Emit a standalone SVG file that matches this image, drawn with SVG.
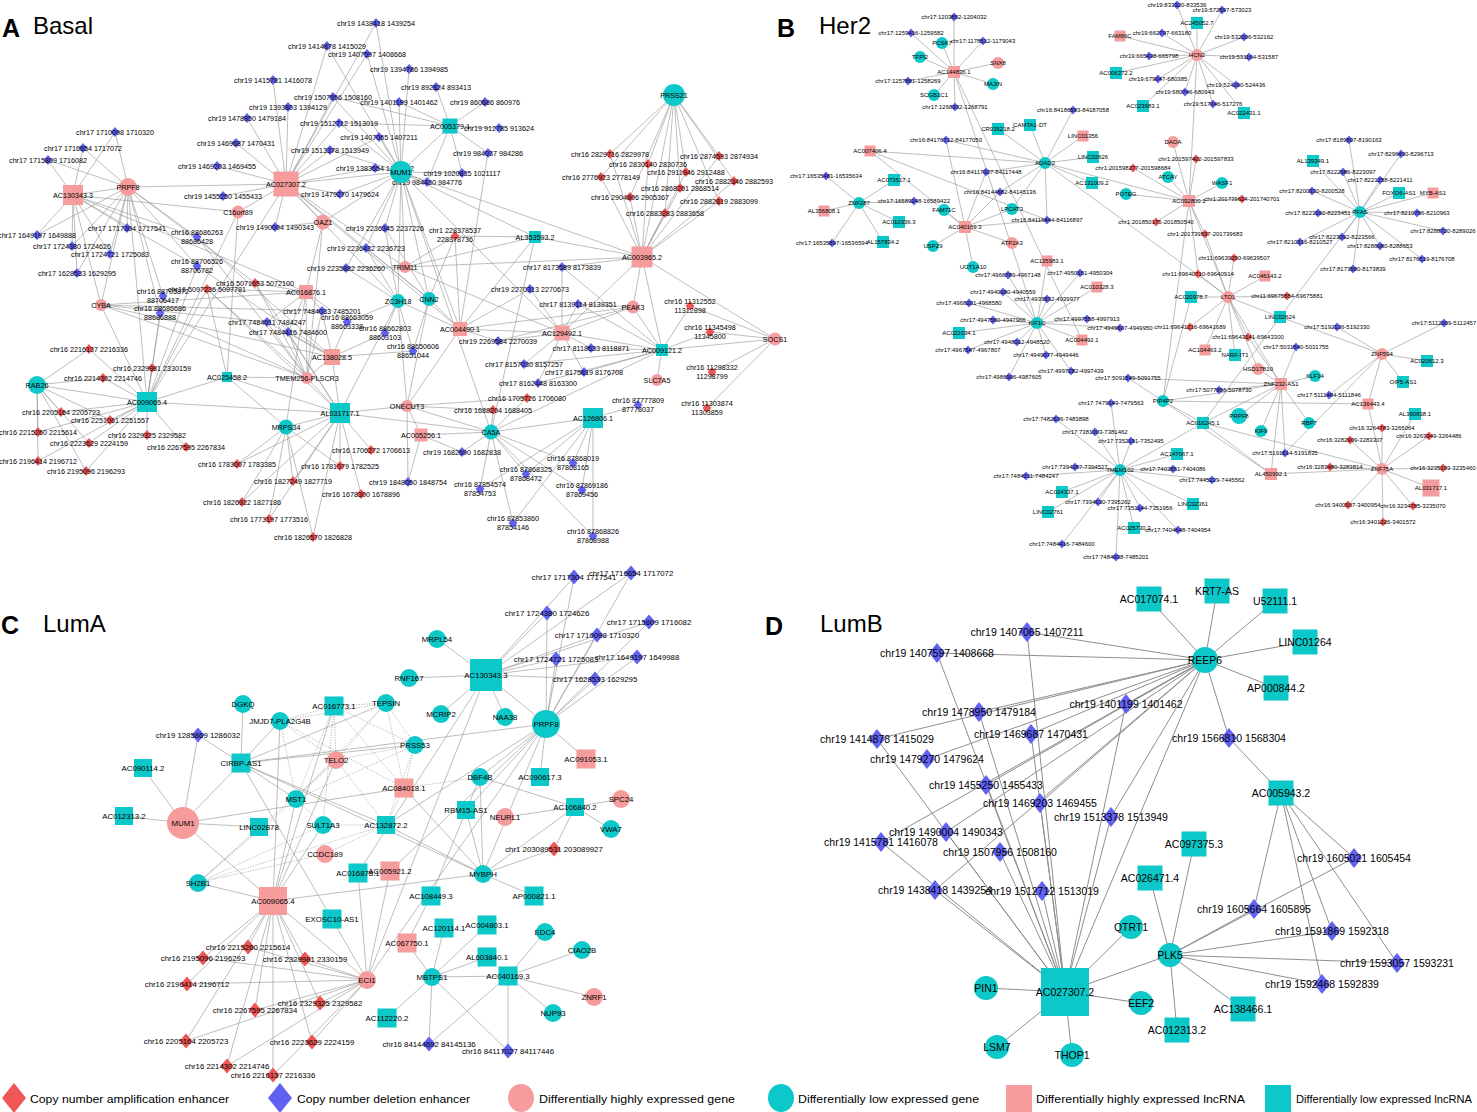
<svg xmlns="http://www.w3.org/2000/svg" width="1477" height="1112" viewBox="0 0 1477 1112">
<style>
.e{fill:none;stroke:#929292;stroke-width:.6}
.ed{fill:none;stroke:#929292;stroke-width:.6;stroke-dasharray:1.3 1.3}
.eD{fill:none;stroke:#8e8e8e;stroke-width:1}
text{font-family:"Liberation Sans",Arial,sans-serif;fill:#000}
.t{text-anchor:middle}
.a{font-size:7.2px}.b{font-size:6px}.c{font-size:7.8px}.d{font-size:10.5px}
.P{font-size:24px}.B{font-size:25px;font-weight:bold}
.lg{font-size:11.6px}
.ra{fill:#ef5757}.bd{fill:#6262f2}.ph{fill:#f69c9c}.cl{fill:#0cc8c8}
</style>
<defs>
<path id="da" d="M0-5L4.5 0 0 5-4.5 0Z"/>
<path id="db" d="M0-4.5L4 0 0 4.5-4 0Z"/>
<path id="dc" d="M0-7.5L6.5 0 0 7.5-6.5 0Z"/>
<path id="dd" d="M0-10L8 0 0 10-8 0Z"/>
</defs>
<rect width="1477" height="1112" fill="#fff"/>
<g id="panel-titles">
<text class="B" x="2" y="37">A</text><text class="P" x="33" y="34">Basal</text>
<text class="B" x="777" y="37">B</text><text class="P" x="819" y="34">Her2</text>
<text class="B" x="1" y="634">C</text><text class="P" x="43" y="632">LumA</text>
<text class="B" x="765" y="635">D</text><text class="P" x="820" y="632">LumB</text>
</g>
<g id="connectors">
<path class="e" d="M286 184L376 23M286 184L327 46M286 184L367 54M286 184L273 80M286 184L333 97M286 184L288 107M286 184L247 118M286 184L339 123M286 184L379 137M286 184L236 143M286 184L330 150M286 184L217 166M286 184L340 194M286 184L223 196M286 184L275 227M286 184L128 187M286 184L238 212M286 184L323 222M286 184L405 267M286 184L398 301M286 184L429 299M286 184L460 329M286 184L401 172M286 184L375 168"/>
<path class="e" d="M401 172L376 23M401 172L367 54M401 172L409 69M401 172L399 102M401 172L379 137M401 172L330 150M401 172L375 168M401 172L340 194M401 172L339 123M401 172L333 97M401 172L450 126M401 172L462 173M401 172L427 182M401 172L385 228M401 172L366 248M401 172L346 268M401 172L642 257M401 172L535 237M401 172L405 267M401 172L429 299M401 172L398 301M401 172L491 432M401 172L460 329M401 172L562 333M401 172L323 222M401 172L327 46"/>
<path class="e" d="M450 126L436 87M450 126L485 102M450 126L499 128M450 126L488 153M450 126L462 173M450 126L427 182M450 126L333 97M450 126L339 123M450 126L399 102M488 153L460 329"/>
<path class="e" d="M674 95L610 154M674 95L648 164M674 95L686 172M674 95L601 177M674 95L680 188M674 95L630 197M674 95L665 213M674 95L719 156M674 95L734 181M674 95L719 201M674 95L642 257"/>
<path class="e" d="M642 257L610 154M642 257L648 164M642 257L686 172M642 257L601 177M642 257L680 188M642 257L630 197M642 257L665 213M642 257L719 156M642 257L734 181M642 257L719 201M642 257L405 267M642 257L535 237M642 257L562 267M642 257L562 333M642 257L662 350M642 257L775 339M642 257L633 307"/>
<path class="e" d="M73 195L115 132M73 195L83 148M73 195L48 160M73 195L37 235M73 195L127 228M73 195L72 246M73 195L110 254M73 195L77 273M73 195L128 187M73 195L238 212M73 195L197 237M73 195L101 305M73 195L306 292M73 195L197 266"/>
<path class="e" d="M128 187L115 132M128 187L83 148M128 187L48 160M128 187L37 235M128 187L127 228M128 187L72 246M128 187L110 254M128 187L77 273M128 187L101 305M128 187L197 237M128 187L197 266M128 187L163 296M128 187L160 313M128 187L147 402M128 187L255 283"/>
<path class="e" d="M101 305L147 402M101 305L307 378M101 305L306 292M101 305L332 357M101 305L322 311M101 305L267 322"/>
<path class="e" d="M147 402L89 349M147 402L152 368M147 402L103 378M147 402L61 412M147 402L110 420M147 402L38 432M147 402L147 435M147 402L89 443M147 402L186 447M147 402L38 461M147 402L86 471M147 402L37 385M147 402L340 413M147 402L238 212M147 402L286 184M147 402L227 377M147 402L197 266M147 402L163 296M147 402L160 313M147 402L207 289"/>
<path class="e" d="M37 385L89 349M37 385L103 378M37 385L61 412M37 385L38 432M37 385L89 443M37 385L38 461M37 385L86 471M37 385L110 420"/>
<path class="e" d="M286 427L237 464M286 427L340 466M286 427L293 481M286 427L242 502M286 427L269 519M286 427L313 537M286 427L227 377M286 427L340 413M286 427L306 292"/>
<path class="e" d="M340 413L237 464M340 413L340 466M340 413L293 481M340 413L242 502M340 413L269 519M340 413L313 537M340 413L361 494M340 413L371 450M340 413L407 406M340 413L491 432M340 413L307 378M340 413L227 377M340 413L332 357M340 413L255 283M340 413L207 289M340 413L288 332"/>
<path class="e" d="M306 292L255 283M306 292L207 289M306 292L322 311M306 292L267 322M306 292L288 332M306 292L347 322M306 292L307 378M306 292L323 222"/>
<path class="e" d="M332 357L322 311M332 357L267 322M332 357L288 332M332 357L347 322M332 357L385 333M332 357L413 351M332 357L307 378M332 357L197 237M332 357L197 266"/>
<path class="e" d="M307 378L255 283M307 378L207 289M307 378L322 311M307 378L267 322M307 378L288 332M307 378L227 377M307 378L197 237M307 378L160 313M227 377L238 212M227 377L207 289M323 222L307 378M323 222L275 227"/>
<path class="e" d="M398 301L385 228M398 301L366 248M398 301L346 268M398 301L407 406M398 301L385 333M398 301L413 351M398 301L340 413M398 301L460 329M398 301L347 322M429 299L385 228M429 299L366 248M429 299L460 329M429 299L407 406M429 299L413 351M429 299L455 236"/>
<path class="e" d="M405 267L535 237M405 267L455 236M405 267L346 268M405 267L562 333M535 237L455 236M535 237L460 329M535 237L491 432M460 329L530 289M460 329L498 341M460 329L407 406M460 329L562 333M460 329L455 236"/>
<path class="e" d="M562 333L530 289M562 333L578 304M562 333L591 348M562 333L524 364M562 333L584 372M562 333L538 383M562 333L562 267M562 333L633 307M562 333L662 350M562 333L498 341"/>
<path class="e" d="M662 350L578 304M662 350L524 364M662 350L584 372M662 350L538 383M662 350L562 267M662 350L633 307M662 350L657 380M662 350L775 339M662 350L690 306M662 350L710 332M662 350L491 432M662 350L591 348M775 339L690 306M775 339L710 332M775 339L712 372M775 339L707 408M633 307L578 304M633 307L460 329M633 307L498 341"/>
<path class="e" d="M491 432L462 452M491 432L573 463M491 432L526 474M491 432L480 489M491 432L582 490M491 432L513 523M491 432L593 536M491 432L493 410M491 432L593 418M491 432L407 406M491 432L527 398M491 432L421 435M593 418L638 405M593 418L573 463M593 418L526 474M593 418L480 489M593 418L582 490M593 418L593 536M593 418L513 523M407 406L527 398M407 406L493 410M407 406L408 482M407 406L421 435M421 435L462 452M421 435L408 482"/>
<path class="e" d="M954 72L954 17M954 72L911 33M954 72L983 41M954 72L908 81M954 72L955 107M954 72L942 43M954 72L920 57M954 72L998 63M954 72L993 84M954 72L934 95M954 72L1037 323M954 72L1082 340"/>
<path class="e" d="M1045 163L1073 110M1045 163L1030 125M1045 163L998 129M1045 163L1083 136M1045 163L1093 157M1045 163L1092 183M1045 163L946 140M1045 163L986 172M1045 163L1000 192M1045 163L1047 220M1045 163L870 151M1045 163L1012 209M1045 163L1189 201M1045 163L1228 297"/>
<path class="e" d="M859 203L826 176M859 203L894 180M859 203L914 201M859 203L824 211M859 203L899 222M859 203L832 243M859 203L883 242M965 227L946 140M965 227L986 172M965 227L1000 192M965 227L1047 220M965 227L944 210M965 227L1012 209M965 227L933 246M965 227L1012 243M965 227L973 267M965 227L870 151M870 151L1047 220"/>
<path class="e" d="M1197 55L1177 5M1197 55L1222 10M1197 55L1162 33M1197 55L1244 37M1197 55L1149 56M1197 55L1249 57M1197 55L1158 79M1197 55L1236 85M1197 55L1185 92M1197 55L1213 104M1197 55L1197 23M1197 55L1120 36M1197 55L1116 73M1197 55L1143 106M1197 55L1244 113M1197 55L1189 201"/>
<path class="e" d="M1189 201L1173 142M1189 201L1196 159M1189 201L1133 168M1189 201L1242 199M1189 201L1156 222M1189 201L1205 234M1189 201L1168 177M1189 201L1222 183M1189 201L1126 194M1189 201L1198 274M1189 201L1163 401M1189 201L1228 297"/>
<path class="e" d="M1228 297L1234 258M1228 297L1198 274M1228 297L1287 296M1228 297L1190 327M1228 297L1248 337M1228 297L1191 297M1228 297L1280 317M1228 297L1205 350M1228 297L1235 355M1228 297L1258 369M1228 297L1281 384M1228 297L1265 276M1228 297L1205 234"/>
<path class="e" d="M1360 212L1349 140M1360 212L1401 154M1360 212L1343 172M1360 212L1380 180M1360 212L1312 191M1360 212L1318 213M1360 212L1417 213M1360 212L1443 231M1360 212L1342 237M1360 212L1300 242M1360 212L1380 246M1360 212L1422 259M1360 212L1353 269M1360 212L1313 161M1360 212L1399 193M1360 212L1433 193M1360 212L1280 317"/>
<path class="e" d="M1281 384L1296 347M1281 384L1315 376M1281 384L1258 369M1281 384L1163 401M1281 384L1239 416M1281 384L1261 431M1281 384L1309 423M1281 384L1203 423M1281 384L1285 453M1281 384L1271 474M1281 384L1219 390M1281 384L1128 378M1281 384L1248 337"/>
<path class="e" d="M1382 354L1337 327M1382 354L1444 323M1382 354L1427 361M1382 354L1403 382M1382 354L1368 404M1382 354L1329 395M1382 354L1280 317M1382 354L1285 453M1280 317L1203 423"/>
<path class="e" d="M1382 469L1382 428M1382 469L1429 436M1382 469L1350 440M1382 469L1330 467M1382 469L1443 468M1382 469L1348 505M1382 469L1413 506M1382 469L1383 522M1382 469L1431 488M1382 469L1368 404M1382 469L1415 414M1382 469L1271 474M1382 469L1203 423"/>
<path class="e" d="M1163 401L1191 297M1163 401L1128 378M1163 401L1368 404M1163 401L1203 423M1163 401L1271 474M1203 423L1120 470M1203 423L1271 474"/>
<path class="e" d="M1120 470L1173 469M1120 470L1212 480M1120 470L1140 508M1120 470L1178 530M1120 470L1116 557M1120 470L1111 403M1120 470L1095 432M1120 470L1131 441M1120 470L1075 467M1120 470L1026 476M1120 470L1098 502M1120 470L1062 544M1120 470L1056 419M1120 470L1177 454M1120 470L1062 492M1120 470L1048 512M1120 470L1193 504M1120 470L1134 528"/>
<path class="e" d="M1037 323L1003 292M1037 323L969 303M1037 323L1047 299M1037 323L993 320M1037 323L1087 319M1037 323L1017 342M1037 323L968 350M1037 323L1046 355M1037 323L1071 371M1037 323L1009 377M1037 323L1120 328M1037 323L959 333M1037 323L1082 340M1037 323L1097 287M1037 323L1080 273M1037 323L1008 275M1037 323L1047 261"/>
<path class="e" d="M486 675L631 573M486 675L574 577M486 675L547 613M486 675L649 622M486 675L597 635M486 675L556 659M486 675L637 657M486 675L595 679M486 675L437 639M486 675L409 678M486 675L441 714M486 675L505 717M486 675L546 724M486 675L358 873M486 675L367 980"/>
<path class="e" d="M546 724L631 573M546 724L574 577M546 724L547 613M546 724L649 622M546 724L597 635M546 724L556 659M546 724L637 657M546 724L595 679M546 724L586 759M546 724L540 777M546 724L480 777M546 724L241 763M546 724L483 874M546 724L466 810M546 724L386 825M546 724L367 980M546 724L390 871"/>
<path class="e" d="M183 823L198 735M183 823L143 768M183 823L124 816M183 823L241 763M183 823L259 827M183 823L273 901M183 823L404 788M241 763L243 704M241 763L280 721M241 763L198 735M241 763L386 703M241 763L415 745M241 763L296 799M241 763L386 825M241 763L483 874M241 763L332 919"/>
<path class="e" d="M273 901L198 883M273 901L248 947M273 901L203 958M273 901L305 959M273 901L187 984M273 901L320 1003M273 901L255 1010M273 901L186 1041M273 901L312 1042M273 901L227 1066M273 901L273 1075M273 901L367 980M273 901L483 874M273 901L280 721M273 901L296 799M273 901L323 825M273 901L336 760M273 901L334 706"/>
<path class="e" d="M367 980L248 947M367 980L203 958M367 980L305 959M367 980L187 984M367 980L320 1003M367 980L255 1010M367 980L186 1041M367 980L312 1042M367 980L227 1066M367 980L273 1075M367 980L332 919M367 980L358 873M367 980L390 871"/>
<path class="e" d="M483 874L480 777M483 874L575 807M483 874L534 896M483 874L554 849M483 874L386 825M483 874L466 810M483 874L404 788M575 807L480 777M575 807L621 799M575 807L611 829M575 807L554 849M575 807L505 817M480 777L431 896M407 943L431 896"/>
<path class="e" d="M432 977L407 943M432 977L444 928M432 977L487 925M432 977L487 957M432 977L508 976M432 977L387 1018M432 977L429 1044M432 977L508 1051M508 976L545 932M508 976L582 950M508 976L594 997M508 976L553 1013M508 976L429 1044M508 976L508 1051"/>
<path class="ed" d="M386 703L334 706M386 703L280 721M386 703L336 760M386 703L415 745M386 703L296 799M386 703L404 788M334 706L280 721M334 706L336 760M334 706L415 745M334 706L296 799M334 706L404 788M334 706L323 825M280 721L336 760M280 721L404 788M280 721L296 799M336 760L415 745M336 760L296 799M336 760L386 825M336 760L198 883M415 745L404 788M415 745L296 799M415 745L386 825M404 788L480 777M404 788L386 825M296 799L323 825M296 799L198 883M323 825L386 825M323 825L198 883M386 825L198 883M386 825L325 854M259 827L198 883M325 854L198 883"/>
<path class="eD" d="M1205 660L1149 599M1205 660L1217 591M1205 660L1275 601M1205 660L1305 642M1205 660L1276 688M1205 660L1027 632M1205 660L937 653M1205 660L979 712M1205 660L1126 704M1205 660L877 739M1205 660L1031 734M1205 660L927 759M1205 660L986 785M1205 660L1040 803M1205 660L1111 817M1205 660L946 832M1205 660L1229 738M1205 660L1065 992M1205 660L935 890M1205 660L881 842"/>
<path class="eD" d="M1065 992L1027 632M1065 992L937 653M1065 992L979 712M1065 992L877 739M1065 992L881 842M1065 992L986 785M1065 992L1040 803M1065 992L1031 734M1065 992L1126 704M1065 992L1111 817M1065 992L1000 852M1065 992L935 890M1065 992L1042 891M1065 992L946 832M1065 992L986 988M1065 992L997 1047M1065 992L1072 1055M1065 992L1141 1003M1065 992L1131 927M1065 992L1170 955"/>
<path class="eD" d="M1281 793L1229 738M1281 793L1354 858M1281 793L1254 909M1281 793L1332 931M1281 793L1397 963M1281 793L1322 984M1170 955L1194 844M1170 955L1150 878M1170 955L1354 858M1170 955L1254 909M1170 955L1332 931M1170 955L1397 963M1170 955L1322 984M1170 955L1243 1009M1170 955L1177 1030"/>
</g>
<g id="nodes-A">
<g id="a1" transform="translate(376 23)"><use href="#da" class="bd"/><text class="t a" y="2.5">chr19 1438418 1439254</text></g>
<g id="a2" transform="translate(327 46)"><use href="#da" class="bd"/><text class="t a" y="2.5">chr19 1414878 1415029</text></g>
<g id="a3" transform="translate(367 54)"><use href="#da" class="bd"/><text class="t a" y="2.5">chr19 1407597 1408668</text></g>
<g id="a4" transform="translate(409 69)"><use href="#da" class="bd"/><text class="t a" y="2.5">chr19 1394786 1394985</text></g>
<g id="a5" transform="translate(273 80)"><use href="#da" class="bd"/><text class="t a" y="2.5">chr19 1415781 1416078</text></g>
<g id="a6" transform="translate(436 87)"><use href="#da" class="bd"/><text class="t a" y="2.5">chr19 892824 893413</text></g>
<g id="a7" transform="translate(333 97)"><use href="#da" class="bd"/><text class="t a" y="2.5">chr19 1507956 1508160</text></g>
<g id="a8" transform="translate(399 102)"><use href="#da" class="bd"/><text class="t a" y="2.5">chr19 1401199 1401462</text></g>
<g id="a9" transform="translate(485 102)"><use href="#da" class="bd"/><text class="t a" y="2.5">chr19 860686 860976</text></g>
<g id="a10" transform="translate(288 107)"><use href="#da" class="bd"/><text class="t a" y="2.5">chr19 1393803 1394129</text></g>
<g id="a11" transform="translate(247 118)"><use href="#da" class="bd"/><text class="t a" y="2.5">chr19 1478950 1479184</text></g>
<g id="a12" transform="translate(339 123)"><use href="#da" class="bd"/><text class="t a" y="2.5">chr19 1512712 1513019</text></g>
<g id="a13" transform="translate(499 128)"><use href="#da" class="bd"/><text class="t a" y="2.5">chr19 912785 913624</text></g>
<g id="a14" transform="translate(379 137)"><use href="#da" class="bd"/><text class="t a" y="2.5">chr19 1407065 1407211</text></g>
<g id="a15" transform="translate(236 143)"><use href="#da" class="bd"/><text class="t a" y="2.5">chr19 1469687 1470431</text></g>
<g id="a16" transform="translate(330 150)"><use href="#da" class="bd"/><text class="t a" y="2.5">chr19 1513378 1513949</text></g>
<g id="a17" transform="translate(488 153)"><use href="#da" class="bd"/><text class="t a" y="2.5">chr19 984037 984286</text></g>
<g id="a18" transform="translate(217 166)"><use href="#da" class="bd"/><text class="t a" y="2.5">chr19 1469203 1469455</text></g>
<g id="a19" transform="translate(375 168)"><use href="#da" class="bd"/><text class="t a" y="2.5">chr19 1383654 1384012</text></g>
<g id="a20" transform="translate(462 173)"><use href="#da" class="bd"/><text class="t a" y="2.5">chr19 1020835 1021117</text></g>
<g id="a21" transform="translate(427 182)"><use href="#da" class="bd"/><text class="t a" y="2.5">chr19 984430 984776</text></g>
<g id="a22" transform="translate(340 194)"><use href="#da" class="bd"/><text class="t a" y="2.5">chr19 1479270 1479624</text></g>
<g id="a23" transform="translate(223 196)"><use href="#da" class="bd"/><text class="t a" y="2.5">chr19 1455250 1455433</text></g>
<g id="a24" transform="translate(275 227)"><use href="#da" class="bd"/><text class="t a" y="2.5">chr19 1490004 1490343</text></g>
<g id="a25" transform="translate(385 228)"><use href="#da" class="bd"/><text class="t a" y="2.5">chr19 2236345 2237226</text></g>
<g id="a26" transform="translate(366 248)"><use href="#da" class="bd"/><text class="t a" y="2.5">chr19 2236432 2236723</text></g>
<g id="a27" transform="translate(346 268)"><use href="#da" class="bd"/><text class="t a" y="2.5">chr19 2235882 2236260</text></g>
<g id="a28" transform="translate(115 132)"><use href="#da" class="bd"/><text class="t a" y="2.5">chr17 1710098 1710320</text></g>
<g id="a29" transform="translate(83 148)"><use href="#da" class="bd"/><text class="t a" y="2.5">chr17 1716654 1717072</text></g>
<g id="a30" transform="translate(48 160)"><use href="#da" class="bd"/><text class="t a" y="2.5">chr17 1715809 1716082</text></g>
<g id="a31" transform="translate(37 235)"><use href="#da" class="bd"/><text class="t a" y="2.5">chr17 1649197 1649888</text></g>
<g id="a32" transform="translate(127 228)"><use href="#da" class="bd"/><text class="t a" y="2.5">chr17 1717304 1717541</text></g>
<g id="a33" transform="translate(72 246)"><use href="#da" class="bd"/><text class="t a" y="2.5">chr17 1724380 1724626</text></g>
<g id="a34" transform="translate(110 254)"><use href="#da" class="bd"/><text class="t a" y="2.5">chr17 1724721 1725083</text></g>
<g id="a35" transform="translate(77 273)"><use href="#da" class="bd"/><text class="t a" y="2.5">chr17 1628533 1629295</text></g>
<g id="a36" transform="translate(197 237)"><use href="#da" class="bd"/><text class="t a"><tspan x="0" y="-2">chr16 88686263</tspan><tspan x="0" y="7">88686428</tspan></text></g>
<g id="a37" transform="translate(197 266)"><use href="#da" class="bd"/><text class="t a"><tspan x="0" y="-2">chr16 88706526</tspan><tspan x="0" y="7">88706782</tspan></text></g>
<g id="a38" transform="translate(163 296)"><use href="#da" class="bd"/><text class="t a"><tspan x="0" y="-2">chr16 88705872</tspan><tspan x="0" y="7">88706417</tspan></text></g>
<g id="a39" transform="translate(160 313)"><use href="#da" class="bd"/><text class="t a"><tspan x="0" y="-2">chr16 88686686</tspan><tspan x="0" y="7">88686888</tspan></text></g>
<g id="a40" transform="translate(322 311)"><use href="#da" class="bd"/><text class="t a" y="2.5">chr17 7484033 7485201</text></g>
<g id="a41" transform="translate(267 322)"><use href="#da" class="bd"/><text class="t a" y="2.5">chr17 7484011 7484247</text></g>
<g id="a42" transform="translate(288 332)"><use href="#da" class="bd"/><text class="t a" y="2.5">chr17 7484416 7484600</text></g>
<g id="a43" transform="translate(347 322)"><use href="#da" class="bd"/><text class="t a"><tspan x="0" y="-2">chr16 88663059</tspan><tspan x="0" y="7">88663338</tspan></text></g>
<g id="a44" transform="translate(385 333)"><use href="#da" class="bd"/><text class="t a"><tspan x="0" y="-2">chr16 88662803</tspan><tspan x="0" y="7">88663103</tspan></text></g>
<g id="a45" transform="translate(413 351)"><use href="#da" class="bd"/><text class="t a"><tspan x="0" y="-2">chr16 88650606</tspan><tspan x="0" y="7">88651044</tspan></text></g>
<g id="a46" transform="translate(530 289)"><use href="#da" class="bd"/><text class="t a" y="2.5">chr19 2270313 2270673</text></g>
<g id="a47" transform="translate(578 304)"><use href="#da" class="bd"/><text class="t a" y="2.5">chr17 8139114 8139351</text></g>
<g id="a48" transform="translate(498 341)"><use href="#da" class="bd"/><text class="t a" y="2.5">chr19 2269584 2270039</text></g>
<g id="a49" transform="translate(591 348)"><use href="#da" class="bd"/><text class="t a" y="2.5">chr17 8118633 8118871</text></g>
<g id="a50" transform="translate(524 364)"><use href="#da" class="bd"/><text class="t a" y="2.5">chr17 8157030 8157257</text></g>
<g id="a51" transform="translate(584 372)"><use href="#da" class="bd"/><text class="t a" y="2.5">chr17 8175819 8176708</text></g>
<g id="a52" transform="translate(538 383)"><use href="#da" class="bd"/><text class="t a" y="2.5">chr17 8162448 8163300</text></g>
<g id="a53" transform="translate(562 267)"><use href="#da" class="bd"/><text class="t a" y="2.5">chr17 8173589 8173839</text></g>
<g id="a54" transform="translate(638 405)"><use href="#da" class="bd"/><text class="t a"><tspan x="0" y="-2">chr16 87777809</tspan><tspan x="0" y="7">87778037</tspan></text></g>
<g id="a55" transform="translate(462 452)"><use href="#da" class="bd"/><text class="t a" y="2.5">chr19 1682690 1682838</text></g>
<g id="a56" transform="translate(573 463)"><use href="#da" class="bd"/><text class="t a"><tspan x="0" y="-2">chr16 87868019</tspan><tspan x="0" y="7">87868165</tspan></text></g>
<g id="a57" transform="translate(526 474)"><use href="#da" class="bd"/><text class="t a"><tspan x="0" y="-2">chr16 87868325</tspan><tspan x="0" y="7">87868472</tspan></text></g>
<g id="a58" transform="translate(408 482)"><use href="#da" class="bd"/><text class="t a" y="2.5">chr19 1848050 1848754</text></g>
<g id="a59" transform="translate(480 489)"><use href="#da" class="bd"/><text class="t a"><tspan x="0" y="-2">chr16 87854574</tspan><tspan x="0" y="7">87854753</tspan></text></g>
<g id="a60" transform="translate(582 490)"><use href="#da" class="bd"/><text class="t a"><tspan x="0" y="-2">chr16 87869186</tspan><tspan x="0" y="7">87869456</tspan></text></g>
<g id="a61" transform="translate(513 523)"><use href="#da" class="bd"/><text class="t a"><tspan x="0" y="-2">chr16 87853860</tspan><tspan x="0" y="7">87854146</tspan></text></g>
<g id="a62" transform="translate(593 536)"><use href="#da" class="bd"/><text class="t a"><tspan x="0" y="-2">chr16 87868826</tspan><tspan x="0" y="7">87868988</tspan></text></g>
<g id="a63" transform="translate(610 154)"><use href="#da" class="ra"/><text class="t a" y="2.5">chr16 2829716 2829978</text></g>
<g id="a64" transform="translate(648 164)"><use href="#da" class="ra"/><text class="t a" y="2.5">chr16 2830140 2830736</text></g>
<g id="a65" transform="translate(686 172)"><use href="#da" class="ra"/><text class="t a" y="2.5">chr16 2911946 2912488</text></g>
<g id="a66" transform="translate(601 177)"><use href="#da" class="ra"/><text class="t a" y="2.5">chr16 2776923 2778149</text></g>
<g id="a67" transform="translate(680 188)"><use href="#da" class="ra"/><text class="t a" y="2.5">chr16 2868201 2868514</text></g>
<g id="a68" transform="translate(630 197)"><use href="#da" class="ra"/><text class="t a" y="2.5">chr16 2904806 2905367</text></g>
<g id="a69" transform="translate(665 213)"><use href="#da" class="ra"/><text class="t a" y="2.5">chr16 2883283 2883658</text></g>
<g id="a70" transform="translate(719 156)"><use href="#da" class="ra"/><text class="t a" y="2.5">chr16 2874593 2874934</text></g>
<g id="a71" transform="translate(734 181)"><use href="#da" class="ra"/><text class="t a" y="2.5">chr16 2882346 2882593</text></g>
<g id="a72" transform="translate(719 201)"><use href="#da" class="ra"/><text class="t a" y="2.5">chr16 2882819 2883099</text></g>
<g id="a73" transform="translate(455 236)"><use href="#da" class="ra"/><text class="t a"><tspan x="0" y="-3">chr1 228378537</tspan><tspan x="0" y="6">228378736</tspan></text></g>
<g id="a74" transform="translate(255 283)"><use href="#da" class="ra"/><text class="t a" y="2.5">chr16 5071653 5072100</text></g>
<g id="a75" transform="translate(207 289)"><use href="#da" class="ra"/><text class="t a" y="2.5">chr16 5097236 5097781</text></g>
<g id="a76" transform="translate(89 349)"><use href="#da" class="ra"/><text class="t a" y="2.5">chr16 2216137 2216336</text></g>
<g id="a77" transform="translate(152 368)"><use href="#da" class="ra"/><text class="t a" y="2.5">chr16 2329981 2330159</text></g>
<g id="a78" transform="translate(103 378)"><use href="#da" class="ra"/><text class="t a" y="2.5">chr16 2214302 2214746</text></g>
<g id="a79" transform="translate(61 412)"><use href="#da" class="ra"/><text class="t a" y="2.5">chr16 2205164 2205723</text></g>
<g id="a80" transform="translate(110 420)"><use href="#da" class="ra"/><text class="t a" y="2.5">chr16 2251061 2251557</text></g>
<g id="a81" transform="translate(38 432)"><use href="#da" class="ra"/><text class="t a" y="2.5">chr16 2215260 2215614</text></g>
<g id="a82" transform="translate(147 435)"><use href="#da" class="ra"/><text class="t a" y="2.5">chr16 2329325 2329582</text></g>
<g id="a83" transform="translate(89 443)"><use href="#da" class="ra"/><text class="t a" y="2.5">chr16 2223629 2224159</text></g>
<g id="a84" transform="translate(186 447)"><use href="#da" class="ra"/><text class="t a" y="2.5">chr16 2267595 2267834</text></g>
<g id="a85" transform="translate(38 461)"><use href="#da" class="ra"/><text class="t a" y="2.5">chr16 2196414 2196712</text></g>
<g id="a86" transform="translate(86 471)"><use href="#da" class="ra"/><text class="t a" y="2.5">chr16 2195096 2196293</text></g>
<g id="a87" transform="translate(237 464)"><use href="#da" class="ra"/><text class="t a" y="2.5">chr16 1783007 1783385</text></g>
<g id="a88" transform="translate(340 466)"><use href="#da" class="ra"/><text class="t a" y="2.5">chr16 1781079 1782525</text></g>
<g id="a89" transform="translate(293 481)"><use href="#da" class="ra"/><text class="t a" y="2.5">chr16 1827249 1827719</text></g>
<g id="a90" transform="translate(242 502)"><use href="#da" class="ra"/><text class="t a" y="2.5">chr16 1826922 1827186</text></g>
<g id="a91" transform="translate(269 519)"><use href="#da" class="ra"/><text class="t a" y="2.5">chr16 1773197 1773516</text></g>
<g id="a92" transform="translate(313 537)"><use href="#da" class="ra"/><text class="t a" y="2.5">chr16 1826570 1826828</text></g>
<g id="a93" transform="translate(361 494)"><use href="#da" class="ra"/><text class="t a" y="2.5">chr16 1678300 1678896</text></g>
<g id="a94" transform="translate(371 450)"><use href="#da" class="ra"/><text class="t a" y="2.5">chr16 1706272 1706613</text></g>
<g id="a95" transform="translate(527 398)"><use href="#da" class="ra"/><text class="t a" y="2.5">chr16 1705726 1706080</text></g>
<g id="a96" transform="translate(493 410)"><use href="#da" class="ra"/><text class="t a" y="2.5">chr16 1688204 1688405</text></g>
<g id="a97" transform="translate(690 306)"><use href="#da" class="ra"/><text class="t a"><tspan x="0" y="-2">chr16 11312552</tspan><tspan x="0" y="7">11312898</tspan></text></g>
<g id="a98" transform="translate(710 332)"><use href="#da" class="ra"/><text class="t a"><tspan x="0" y="-2">chr16 11345498</tspan><tspan x="0" y="7">11345800</tspan></text></g>
<g id="a99" transform="translate(712 372)"><use href="#da" class="ra"/><text class="t a"><tspan x="0" y="-2">chr16 11298332</tspan><tspan x="0" y="7">11298799</tspan></text></g>
<g id="a100" transform="translate(707 408)"><use href="#da" class="ra"/><text class="t a"><tspan x="0" y="-2">chr16 11303874</tspan><tspan x="0" y="7">11303859</tspan></text></g>
<g id="a_PRPF8" transform="translate(128 187)"><circle r="9" class="ph"/><text class="t a" y="2.5">PRPF8</text></g>
<g id="a_C16orf89" transform="translate(238 212)"><circle r="6.5" class="ph"/><text class="t a" y="2.5">C16orf89</text></g>
<g id="a_OAZ1" transform="translate(323 222)"><circle r="7.5" class="ph"/><text class="t a" y="2.5">OAZ1</text></g>
<g id="a_CYBA" transform="translate(101 305)"><circle r="6" class="ph"/><text class="t a" y="2.5">CYBA</text></g>
<g id="a_TMEM256" transform="translate(307 378)"><circle r="6" class="ph"/><text class="t a" y="2.5">TMEM256-PLSCR3</text></g>
<g id="a_TRIM11" transform="translate(405 267)"><circle r="6" class="ph"/><text class="t a" y="2.5">TRIM11</text></g>
<g id="a_PEAK3" transform="translate(633 307)"><circle r="6.5" class="ph"/><text class="t a" y="2.5">PEAK3</text></g>
<g id="a_SLC7A5" transform="translate(657 380)"><circle r="6" class="ph"/><text class="t a" y="2.5">SLC7A5</text></g>
<g id="a_ONECUT3" transform="translate(407 406)"><circle r="6" class="ph"/><text class="t a" y="2.5">ONECUT3</text></g>
<g id="a_SOCS1" transform="translate(775 339)"><circle r="6.5" class="ph"/><text class="t a" y="2.5">SOCS1</text></g>
<g id="a_MUM1" transform="translate(401 172)"><circle r="11" class="cl"/><text class="t a" y="2.5">MUM1</text></g>
<g id="a_PRSS21" transform="translate(674 95)"><circle r="11" class="cl"/><text class="t a" y="2.5">PRSS21</text></g>
<g id="a_RAB26" transform="translate(37 385)"><circle r="9" class="cl"/><text class="t a" y="2.5">RAB26</text></g>
<g id="a_MRPS34" transform="translate(286 427)"><circle r="7.5" class="cl"/><text class="t a" y="2.5">MRPS34</text></g>
<g id="a_ZC3H18" transform="translate(398 301)"><circle r="7" class="cl"/><text class="t a" y="2.5">ZC3H18</text></g>
<g id="a_CNN2" transform="translate(429 299)"><circle r="7" class="cl"/><text class="t a" y="2.5">CNN2</text></g>
<g id="a_CA5A" transform="translate(491 432)"><circle r="7.5" class="cl"/><text class="t a" y="2.5">CA5A</text></g>
<g id="a_AC130343.3" transform="translate(73 195)"><rect x="-10" y="-10" width="20" height="20" class="ph"/><text class="t a" y="2.5">AC130343.3</text></g>
<g id="a_AC027307.2" transform="translate(286 184)"><rect x="-12.5" y="-12.5" width="25" height="25" class="ph"/><text class="t a" y="2.5">AC027307.2</text></g>
<g id="a_AC003965.2" transform="translate(642 257)"><rect x="-10.5" y="-10.5" width="21" height="21" class="ph"/><text class="t a" y="2.5">AC003965.2</text></g>
<g id="a_AC016876.1" transform="translate(306 292)"><rect x="-7" y="-7" width="14" height="14" class="ph"/><text class="t a" y="2.5">AC016876.1</text></g>
<g id="a_AC138028.5" transform="translate(332 357)"><rect x="-8" y="-8" width="16" height="16" class="ph"/><text class="t a" y="2.5">AC138028.5</text></g>
<g id="a_AC004490.1" transform="translate(460 329)"><rect x="-7" y="-7" width="14" height="14" class="ph"/><text class="t a" y="2.5">AC004490.1</text></g>
<g id="a_AC129492.1" transform="translate(562 333)"><rect x="-7.5" y="-7.5" width="15" height="15" class="ph"/><text class="t a" y="2.5">AC129492.1</text></g>
<g id="a_AC005256.1" transform="translate(421 435)"><rect x="-6.5" y="-6.5" width="13" height="13" class="ph"/><text class="t a" y="2.5">AC005256.1</text></g>
<g id="a_AC005379.1" transform="translate(450 126)"><rect x="-7.5" y="-7.5" width="15" height="15" class="cl"/><text class="t a" y="2.5">AC005379.1</text></g>
<g id="a_AL353593.2" transform="translate(535 237)"><rect x="-6" y="-6" width="12" height="12" class="cl"/><text class="t a" y="2.5">AL353593.2</text></g>
<g id="a_AC025458.2" transform="translate(227 377)"><rect x="-5" y="-5" width="10" height="10" class="cl"/><text class="t a" y="2.5">AC025458.2</text></g>
<g id="a_AC009065.4" transform="translate(147 402)"><rect x="-10" y="-10" width="20" height="20" class="cl"/><text class="t a" y="2.5">AC009065.4</text></g>
<g id="a_AL031717.1" transform="translate(340 413)"><rect x="-10" y="-10" width="20" height="20" class="cl"/><text class="t a" y="2.5">AL031717.1</text></g>
<g id="a_AC009121.2" transform="translate(662 350)"><rect x="-6" y="-6" width="12" height="12" class="cl"/><text class="t a" y="2.5">AC009121.2</text></g>
<g id="a_AC126806.1" transform="translate(593 418)"><rect x="-10" y="-10" width="20" height="20" class="cl"/><text class="t a" y="2.5">AC126806.1</text></g>
</g>
<g id="nodes-B">
<g id="b1" transform="translate(954 17)"><use href="#db" class="bd"/><text class="t b" y="2">chr17:1203852-1204032</text></g>
<g id="b2" transform="translate(911 33)"><use href="#db" class="bd"/><text class="t b" y="2">chr17:1259416-1259582</text></g>
<g id="b3" transform="translate(983 41)"><use href="#db" class="bd"/><text class="t b" y="2">chr17:1178512-1179043</text></g>
<g id="b4" transform="translate(908 81)"><use href="#db" class="bd"/><text class="t b" y="2">chr17:1257881-1258269</text></g>
<g id="b5" transform="translate(955 107)"><use href="#db" class="bd"/><text class="t b" y="2">chr17:1268332-1268791</text></g>
<g id="b6" transform="translate(1073 110)"><use href="#db" class="bd"/><text class="t b" y="2">chr16:84186593-84187058</text></g>
<g id="b7" transform="translate(946 140)"><use href="#db" class="bd"/><text class="t b" y="2">chr16:84176712-84177050</text></g>
<g id="b8" transform="translate(986 172)"><use href="#db" class="bd"/><text class="t b" y="2">chr16:84117027-84117448</text></g>
<g id="b9" transform="translate(826 176)"><use href="#db" class="bd"/><text class="t b" y="2">chr17:16535481-16535634</text></g>
<g id="b10" transform="translate(1000 192)"><use href="#db" class="bd"/><text class="t b" y="2">chr16:84144682-84145136</text></g>
<g id="b11" transform="translate(914 201)"><use href="#db" class="bd"/><text class="t b" y="2">chr17:16589248-16589422</text></g>
<g id="b12" transform="translate(1047 220)"><use href="#db" class="bd"/><text class="t b" y="2">chr16:84116444-84116897</text></g>
<g id="b13" transform="translate(832 243)"><use href="#db" class="bd"/><text class="t b" y="2">chr17:16535897-16536594</text></g>
<g id="b14" transform="translate(1008 275)"><use href="#db" class="bd"/><text class="t b" y="2">chr17:4966789-4967148</text></g>
<g id="b15" transform="translate(1080 273)"><use href="#db" class="bd"/><text class="t b" y="2">chr17:4950151-4950304</text></g>
<g id="b16" transform="translate(1177 5)"><use href="#db" class="bd"/><text class="t b" y="2">chr19:833320-833536</text></g>
<g id="b17" transform="translate(1222 10)"><use href="#db" class="bd"/><text class="t b" y="2">chr19:572597-573023</text></g>
<g id="b18" transform="translate(1162 33)"><use href="#db" class="bd"/><text class="t b" y="2">chr19:662797-663180</text></g>
<g id="b19" transform="translate(1244 37)"><use href="#db" class="bd"/><text class="t b" y="2">chr19:532006-532162</text></g>
<g id="b20" transform="translate(1149 56)"><use href="#db" class="bd"/><text class="t b" y="2">chr19:665438-665798</text></g>
<g id="b21" transform="translate(1249 57)"><use href="#db" class="bd"/><text class="t b" y="2">chr19:531164-531587</text></g>
<g id="b22" transform="translate(1158 79)"><use href="#db" class="bd"/><text class="t b" y="2">chr19:679047-680385</text></g>
<g id="b23" transform="translate(1236 85)"><use href="#db" class="bd"/><text class="t b" y="2">chr19:524290-524436</text></g>
<g id="b24" transform="translate(1185 92)"><use href="#db" class="bd"/><text class="t b" y="2">chr19:680746-680943</text></g>
<g id="b25" transform="translate(1213 104)"><use href="#db" class="bd"/><text class="t b" y="2">chr19:517046-517276</text></g>
<g id="b26" transform="translate(1349 140)"><use href="#db" class="bd"/><text class="t b" y="2">chr17:8189507-8190163</text></g>
<g id="b27" transform="translate(1401 154)"><use href="#db" class="bd"/><text class="t b" y="2">chr17:8296430-8296713</text></g>
<g id="b28" transform="translate(1343 172)"><use href="#db" class="bd"/><text class="t b" y="2">chr17:8222586-8223097</text></g>
<g id="b29" transform="translate(1380 180)"><use href="#db" class="bd"/><text class="t b" y="2">chr17:8221258-8221411</text></g>
<g id="b30" transform="translate(1312 191)"><use href="#db" class="bd"/><text class="t b" y="2">chr17:8200330-8200528</text></g>
<g id="b31" transform="translate(1318 213)"><use href="#db" class="bd"/><text class="t b" y="2">chr17:8223192-8223451</text></g>
<g id="b32" transform="translate(1417 213)"><use href="#db" class="bd"/><text class="t b" y="2">chr17:8210796-8210963</text></g>
<g id="b33" transform="translate(1443 231)"><use href="#db" class="bd"/><text class="t b" y="2">chr17:8288720-8289026</text></g>
<g id="b34" transform="translate(1342 237)"><use href="#db" class="bd"/><text class="t b" y="2">chr17:8223092-8223566</text></g>
<g id="b35" transform="translate(1300 242)"><use href="#db" class="bd"/><text class="t b" y="2">chr17:8210316-8210527</text></g>
<g id="b36" transform="translate(1380 246)"><use href="#db" class="bd"/><text class="t b" y="2">chr17:8288080-8288653</text></g>
<g id="b37" transform="translate(1422 259)"><use href="#db" class="bd"/><text class="t b" y="2">chr17:8176519-8176708</text></g>
<g id="b38" transform="translate(1353 269)"><use href="#db" class="bd"/><text class="t b" y="2">chr17:8173580-8173839</text></g>
<g id="b39" transform="translate(1337 327)"><use href="#db" class="bd"/><text class="t b" y="2">chr17:5192136-5192330</text></g>
<g id="b40" transform="translate(1444 323)"><use href="#db" class="bd"/><text class="t b" y="2">chr17:5112009-5112457</text></g>
<g id="b41" transform="translate(1296 347)"><use href="#db" class="bd"/><text class="t b" y="2">chr17:5031540-5031755</text></g>
<g id="b42" transform="translate(1128 378)"><use href="#db" class="bd"/><text class="t b" y="2">chr17:5091549-5091755</text></g>
<g id="b43" transform="translate(1219 390)"><use href="#db" class="bd"/><text class="t b" y="2">chr17:5077956-5078730</text></g>
<g id="b44" transform="translate(1329 395)"><use href="#db" class="bd"/><text class="t b" y="2">chr17:5111484-5111846</text></g>
<g id="b45" transform="translate(1285 453)"><use href="#db" class="bd"/><text class="t b" y="2">chr17:5191514-5191835</text></g>
<g id="b46" transform="translate(1173 469)"><use href="#db" class="bd"/><text class="t b" y="2">chr17:7403851-7404086</text></g>
<g id="b47" transform="translate(1212 480)"><use href="#db" class="bd"/><text class="t b" y="2">chr17:7445229-7445562</text></g>
<g id="b48" transform="translate(1140 508)"><use href="#db" class="bd"/><text class="t b" y="2">chr17:7351144-7351956</text></g>
<g id="b49" transform="translate(1178 530)"><use href="#db" class="bd"/><text class="t b" y="2">chr17:7404648-7404954</text></g>
<g id="b50" transform="translate(1116 557)"><use href="#db" class="bd"/><text class="t b" y="2">chr17:7484938-7485201</text></g>
<g id="b51" transform="translate(1003 292)"><use href="#db" class="bd"/><text class="t b" y="2">chr17:4940180-4940559</text></g>
<g id="b52" transform="translate(969 303)"><use href="#db" class="bd"/><text class="t b" y="2">chr17:4968201-4968580</text></g>
<g id="b53" transform="translate(1047 299)"><use href="#db" class="bd"/><text class="t b" y="2">chr17:4939532-4939977</text></g>
<g id="b54" transform="translate(993 320)"><use href="#db" class="bd"/><text class="t b" y="2">chr17:4947560-4947966</text></g>
<g id="b55" transform="translate(1087 319)"><use href="#db" class="bd"/><text class="t b" y="2">chr17:4997558-4997913</text></g>
<g id="b56" transform="translate(1017 342)"><use href="#db" class="bd"/><text class="t b" y="2">chr17:4948012-4948520</text></g>
<g id="b57" transform="translate(968 350)"><use href="#db" class="bd"/><text class="t b" y="2">chr17:4967547-4967807</text></g>
<g id="b58" transform="translate(1046 355)"><use href="#db" class="bd"/><text class="t b" y="2">chr17:4949077-4949446</text></g>
<g id="b59" transform="translate(1071 371)"><use href="#db" class="bd"/><text class="t b" y="2">chr17:4997282-4997439</text></g>
<g id="b60" transform="translate(1009 377)"><use href="#db" class="bd"/><text class="t b" y="2">chr17:4986906-4987605</text></g>
<g id="b61" transform="translate(1120 328)"><use href="#db" class="bd"/><text class="t b" y="2">chr17:4949607-4949950</text></g>
<g id="b62" transform="translate(1111 403)"><use href="#db" class="bd"/><text class="t b" y="2">chr17:7479149-7479563</text></g>
<g id="b63" transform="translate(1056 419)"><use href="#db" class="bd"/><text class="t b" y="2">chr17:7482636-7483898</text></g>
<g id="b64" transform="translate(1095 432)"><use href="#db" class="bd"/><text class="t b" y="2">chr17:7381003-7381462</text></g>
<g id="b65" transform="translate(1131 441)"><use href="#db" class="bd"/><text class="t b" y="2">chr17:7352191-7352495</text></g>
<g id="b66" transform="translate(1075 467)"><use href="#db" class="bd"/><text class="t b" y="2">chr17:7394287-7394527</text></g>
<g id="b67" transform="translate(1026 476)"><use href="#db" class="bd"/><text class="t b" y="2">chr17:7484011-7484247</text></g>
<g id="b68" transform="translate(1098 502)"><use href="#db" class="bd"/><text class="t b" y="2">chr17:7394630-7395262</text></g>
<g id="b69" transform="translate(1062 544)"><use href="#db" class="bd"/><text class="t b" y="2">chr17:7484416-7484600</text></g>
<g id="br1" transform="translate(1196 159)"><use href="#db" class="ra"/><text class="t b" y="2">chr1:201597402-201597833</text></g>
<g id="br2" transform="translate(1133 168)"><use href="#db" class="ra"/><text class="t b" y="2">chr1:201598277-201598684</text></g>
<g id="br3" transform="translate(1242 199)"><use href="#db" class="ra"/><text class="t b" y="2">chr1:201739624-201740701</text></g>
<g id="br4" transform="translate(1156 222)"><use href="#db" class="ra"/><text class="t b" y="2">chr1:201850175-201850540</text></g>
<g id="br5" transform="translate(1205 234)"><use href="#db" class="ra"/><text class="t b" y="2">chr1:201739537-201739683</text></g>
<g id="br6" transform="translate(1234 258)"><use href="#db" class="ra"/><text class="t b" y="2">chr11:69639250-69639507</text></g>
<g id="br7" transform="translate(1198 274)"><use href="#db" class="ra"/><text class="t b" y="2">chr11:69640710-69640914</text></g>
<g id="br8" transform="translate(1287 296)"><use href="#db" class="ra"/><text class="t b" y="2">chr11:69675554-69675881</text></g>
<g id="br9" transform="translate(1190 327)"><use href="#db" class="ra"/><text class="t b" y="2">chr11:69641216-69641689</text></g>
<g id="br10" transform="translate(1248 337)"><use href="#db" class="ra"/><text class="t b" y="2">chr11:69643141-69643300</text></g>
<g id="br11" transform="translate(1382 428)"><use href="#db" class="ra"/><text class="t b" y="2">chr16:3264783-3265064</text></g>
<g id="br12" transform="translate(1429 436)"><use href="#db" class="ra"/><text class="t b" y="2">chr16:3263949-3264486</text></g>
<g id="br13" transform="translate(1350 440)"><use href="#db" class="ra"/><text class="t b" y="2">chr16:3282909-3283307</text></g>
<g id="br14" transform="translate(1330 467)"><use href="#db" class="ra"/><text class="t b" y="2">chr16:3283480-3283814</text></g>
<g id="br15" transform="translate(1443 468)"><use href="#db" class="ra"/><text class="t b" y="2">chr16:3235199-3235460</text></g>
<g id="br16" transform="translate(1348 505)"><use href="#db" class="ra"/><text class="t b" y="2">chr16:3400507-3400954</text></g>
<g id="br17" transform="translate(1413 506)"><use href="#db" class="ra"/><text class="t b" y="2">chr16:3234785-3235070</text></g>
<g id="br18" transform="translate(1383 522)"><use href="#db" class="ra"/><text class="t b" y="2">chr16:3401226-3401572</text></g>
<g id="b_SNX8" transform="translate(998 63)"><circle r="6" class="ph"/><text class="t b" y="2">SNX8</text></g>
<g id="b_HCN2" transform="translate(1197 55)"><circle r="6" class="ph"/><text class="t b" y="2">HCN2</text></g>
<g id="b_DAOA" transform="translate(1173 142)"><circle r="6" class="ph"/><text class="t b" y="2">DAOA</text></g>
<g id="b_ATP2A3" transform="translate(1012 243)"><circle r="6" class="ph"/><text class="t b" y="2">ATP2A3</text></g>
<g id="b_LTO1" transform="translate(1228 297)"><circle r="6" class="ph"/><text class="t b" y="2">LTO1</text></g>
<g id="b_HSD17B10" transform="translate(1258 369)"><circle r="6" class="ph"/><text class="t b" y="2">HSD17B10</text></g>
<g id="b_ZNF594" transform="translate(1382 354)"><circle r="6" class="ph"/><text class="t b" y="2">ZNF594</text></g>
<g id="b_ZNF75A" transform="translate(1382 469)"><circle r="6" class="ph"/><text class="t b" y="2">ZNF75A</text></g>
<g id="b_PCSK7" transform="translate(942 43)"><circle r="6" class="cl"/><text class="t b" y="2">PCSK7</text></g>
<g id="b_TFPI2" transform="translate(920 57)"><circle r="6" class="cl"/><text class="t b" y="2">TFPI2</text></g>
<g id="b_MAJIN" transform="translate(993 84)"><circle r="6" class="cl"/><text class="t b" y="2">MAJIN</text></g>
<g id="b_SCGB1C1" transform="translate(934 95)"><circle r="6" class="cl"/><text class="t b" y="2">SCGB1C1</text></g>
<g id="b_ADAD2" transform="translate(1045 163)"><circle r="6" class="cl"/><text class="t b" y="2">ADAD2</text></g>
<g id="b_ZNF287" transform="translate(859 203)"><circle r="6" class="cl"/><text class="t b" y="2">ZNF287</text></g>
<g id="b_LPCAT3" transform="translate(1012 209)"><circle r="6" class="cl"/><text class="t b" y="2">LPCAT3</text></g>
<g id="b_FAM71C" transform="translate(944 210)"><circle r="6" class="cl"/><text class="t b" y="2">FAM71C</text></g>
<g id="b_USP29" transform="translate(933 246)"><circle r="6" class="cl"/><text class="t b" y="2">USP29</text></g>
<g id="b_UGT1A10" transform="translate(973 267)"><circle r="6" class="cl"/><text class="t b" y="2">UGT1A10</text></g>
<g id="b_ATCAY" transform="translate(1168 177)"><circle r="6" class="cl"/><text class="t b" y="2">ATCAY</text></g>
<g id="b_WASF1" transform="translate(1222 183)"><circle r="6" class="cl"/><text class="t b" y="2">WASF1</text></g>
<g id="b_POTEG" transform="translate(1126 194)"><circle r="6" class="cl"/><text class="t b" y="2">POTEG</text></g>
<g id="b_PFAS" transform="translate(1360 212)"><circle r="6" class="cl"/><text class="t b" y="2">PFAS</text></g>
<g id="b_KIF1C" transform="translate(1037 323)"><circle r="6" class="cl"/><text class="t b" y="2">KIF1C</text></g>
<g id="b_KLF14" transform="translate(1315 376)"><circle r="6" class="cl"/><text class="t b" y="2">KLF14</text></g>
<g id="b_PIP4P2" transform="translate(1163 401)"><circle r="6" class="cl"/><text class="t b" y="2">PIP4P2</text></g>
<g id="b_PRPF8" transform="translate(1239 416)"><circle r="8" class="cl"/><text class="t b" y="2">PRPF8</text></g>
<g id="b_KIF9" transform="translate(1261 431)"><circle r="6" class="cl"/><text class="t b" y="2">KIF9</text></g>
<g id="b_RBP7" transform="translate(1309 423)"><circle r="6" class="cl"/><text class="t b" y="2">RBP7</text></g>
<g id="b_TMEM102" transform="translate(1120 470)"><circle r="6" class="cl"/><text class="t b" y="2">TMEM102</text></g>
<g id="b_AC144836.1" transform="translate(954 72)"><rect x="-6" y="-6" width="12" height="12" class="ph"/><text class="t b" y="2">AC144836.1</text></g>
<g id="b_FAM66C" transform="translate(1120 36)"><rect x="-5.5" y="-5.5" width="11" height="11" class="ph"/><text class="t b" y="2">FAM66C</text></g>
<g id="b_LINC01356" transform="translate(1083 136)"><rect x="-5.5" y="-5.5" width="11" height="11" class="ph"/><text class="t b" y="2">LINC01356</text></g>
<g id="b_AC007406.4" transform="translate(870 151)"><rect x="-5.5" y="-5.5" width="11" height="11" class="ph"/><text class="t b" y="2">AC007406.4</text></g>
<g id="b_AL356808.1" transform="translate(824 211)"><rect x="-5.5" y="-5.5" width="11" height="11" class="ph"/><text class="t b" y="2">AL356808.1</text></g>
<g id="b_AC040169.3" transform="translate(965 227)"><rect x="-6" y="-6" width="12" height="12" class="ph"/><text class="t b" y="2">AC040169.3</text></g>
<g id="b_AC135983.1" transform="translate(1047 261)"><rect x="-5.5" y="-5.5" width="11" height="11" class="ph"/><text class="t b" y="2">AC135983.1</text></g>
<g id="b_AC010328.3" transform="translate(1097 287)"><rect x="-5.5" y="-5.5" width="11" height="11" class="ph"/><text class="t b" y="2">AC010328.3</text></g>
<g id="b_AC092800.1" transform="translate(1189 201)"><rect x="-6" y="-6" width="12" height="12" class="ph"/><text class="t b" y="2">AC092800.1</text></g>
<g id="b_MYB-AS1" transform="translate(1433 193)"><rect x="-5.5" y="-5.5" width="11" height="11" class="ph"/><text class="t b" y="2">MYB-AS1</text></g>
<g id="b_AC046143.2" transform="translate(1265 276)"><rect x="-5.5" y="-5.5" width="11" height="11" class="ph"/><text class="t b" y="2">AC046143.2</text></g>
<g id="b_AC104463.2" transform="translate(1205 350)"><rect x="-5.5" y="-5.5" width="11" height="11" class="ph"/><text class="t b" y="2">AC104463.2</text></g>
<g id="b_ZNF232-AS1" transform="translate(1281 384)"><rect x="-6" y="-6" width="12" height="12" class="ph"/><text class="t b" y="2">ZNF232-AS1</text></g>
<g id="b_AC136443.4" transform="translate(1368 404)"><rect x="-5.5" y="-5.5" width="11" height="11" class="ph"/><text class="t b" y="2">AC136443.4</text></g>
<g id="b_AL450992.1" transform="translate(1271 474)"><rect x="-6" y="-6" width="12" height="12" class="ph"/><text class="t b" y="2">AL450992.1</text></g>
<g id="b_AL031717.1" transform="translate(1431 488)"><rect x="-8.5" y="-8.5" width="17" height="17" class="ph"/><text class="t b" y="2">AL031717.1</text></g>
<g id="b_AC004492.1" transform="translate(1082 340)"><rect x="-5.5" y="-5.5" width="11" height="11" class="ph"/><text class="t b" y="2">AC004492.1</text></g>
<g id="b_AC245052.7" transform="translate(1197 23)"><rect x="-6" y="-6" width="12" height="12" class="cl"/><text class="t b" y="2">AC245052.7</text></g>
<g id="b_AC006372.2" transform="translate(1116 73)"><rect x="-6" y="-6" width="12" height="12" class="cl"/><text class="t b" y="2">AC006372.2</text></g>
<g id="b_AC023983.1" transform="translate(1143 106)"><rect x="-6" y="-6" width="12" height="12" class="cl"/><text class="t b" y="2">AC023983.1</text></g>
<g id="b_AC022431.1" transform="translate(1244 113)"><rect x="-6" y="-6" width="12" height="12" class="cl"/><text class="t b" y="2">AC022431.1</text></g>
<g id="b_CAMTA1-DT" transform="translate(1030 125)"><rect x="-6" y="-6" width="12" height="12" class="cl"/><text class="t b" y="2">CAMTA1-DT</text></g>
<g id="b_CR936218.2" transform="translate(998 129)"><rect x="-6" y="-6" width="12" height="12" class="cl"/><text class="t b" y="2">CR936218.2</text></g>
<g id="b_LINC02626" transform="translate(1093 157)"><rect x="-6" y="-6" width="12" height="12" class="cl"/><text class="t b" y="2">LINC02626</text></g>
<g id="b_AC131009.2" transform="translate(1092 183)"><rect x="-6" y="-6" width="12" height="12" class="cl"/><text class="t b" y="2">AC131009.2</text></g>
<g id="b_AC073517.1" transform="translate(894 180)"><rect x="-6" y="-6" width="12" height="12" class="cl"/><text class="t b" y="2">AC073517.1</text></g>
<g id="b_AC010336.3" transform="translate(899 222)"><rect x="-6" y="-6" width="12" height="12" class="cl"/><text class="t b" y="2">AC010336.3</text></g>
<g id="b_AL157834.2" transform="translate(883 242)"><rect x="-6" y="-6" width="12" height="12" class="cl"/><text class="t b" y="2">AL157834.2</text></g>
<g id="b_AL139349.1" transform="translate(1313 161)"><rect x="-6" y="-6" width="12" height="12" class="cl"/><text class="t b" y="2">AL139349.1</text></g>
<g id="b_FOXO6-AS1" transform="translate(1399 193)"><rect x="-6" y="-6" width="12" height="12" class="cl"/><text class="t b" y="2">FOXO6-AS1</text></g>
<g id="b_AC020978.7" transform="translate(1191 297)"><rect x="-6" y="-6" width="12" height="12" class="cl"/><text class="t b" y="2">AC020978.7</text></g>
<g id="b_LINC02624" transform="translate(1280 317)"><rect x="-6" y="-6" width="12" height="12" class="cl"/><text class="t b" y="2">LINC02624</text></g>
<g id="b_NARF-IT1" transform="translate(1235 355)"><rect x="-6" y="-6" width="12" height="12" class="cl"/><text class="t b" y="2">NARF-IT1</text></g>
<g id="b_AC020612.3" transform="translate(1427 361)"><rect x="-6" y="-6" width="12" height="12" class="cl"/><text class="t b" y="2">AC020612.3</text></g>
<g id="b_OIP5-AS1" transform="translate(1403 382)"><rect x="-6" y="-6" width="12" height="12" class="cl"/><text class="t b" y="2">OIP5-AS1</text></g>
<g id="b_AL390838.1" transform="translate(1415 414)"><rect x="-6" y="-6" width="12" height="12" class="cl"/><text class="t b" y="2">AL390838.1</text></g>
<g id="b_AC016245.1" transform="translate(1203 423)"><rect x="-6" y="-6" width="12" height="12" class="cl"/><text class="t b" y="2">AC016245.1</text></g>
<g id="b_AC147067.1" transform="translate(1177 454)"><rect x="-6" y="-6" width="12" height="12" class="cl"/><text class="t b" y="2">AC147067.1</text></g>
<g id="b_LINC02361" transform="translate(1193 504)"><rect x="-6" y="-6" width="12" height="12" class="cl"/><text class="t b" y="2">LINC02361</text></g>
<g id="b_AC025730.3" transform="translate(1134 528)"><rect x="-6" y="-6" width="12" height="12" class="cl"/><text class="t b" y="2">AC025730.3</text></g>
<g id="b_AC022034.1" transform="translate(959 333)"><rect x="-6" y="-6" width="12" height="12" class="cl"/><text class="t b" y="2">AC022034.1</text></g>
<g id="b_AC024337.1" transform="translate(1062 492)"><rect x="-6" y="-6" width="12" height="12" class="cl"/><text class="t b" y="2">AC024337.1</text></g>
<g id="b_LINC02761" transform="translate(1048 512)"><rect x="-6" y="-6" width="12" height="12" class="cl"/><text class="t b" y="2">LINC02761</text></g>
</g>
<g id="nodes-C">
<g id="c1" transform="translate(631 573)"><use href="#dc" class="bd"/><text class="t c" y="2.7">chr17 1716654 1717072</text></g>
<g id="c2" transform="translate(574 577)"><use href="#dc" class="bd"/><text class="t c" y="2.7">chr17 1717304 1717541</text></g>
<g id="c3" transform="translate(547 613)"><use href="#dc" class="bd"/><text class="t c" y="2.7">chr17 1724380 1724626</text></g>
<g id="c4" transform="translate(649 622)"><use href="#dc" class="bd"/><text class="t c" y="2.7">chr17 1715809 1716082</text></g>
<g id="c5" transform="translate(597 635)"><use href="#dc" class="bd"/><text class="t c" y="2.7">chr17 1710098 1710320</text></g>
<g id="c6" transform="translate(556 659)"><use href="#dc" class="bd"/><text class="t c" y="2.7">chr17 1724721 1725083</text></g>
<g id="c7" transform="translate(637 657)"><use href="#dc" class="bd"/><text class="t c" y="2.7">chr17 1649197 1649988</text></g>
<g id="c8" transform="translate(595 679)"><use href="#dc" class="bd"/><text class="t c" y="2.7">chr17 1628533 1629295</text></g>
<g id="c9" transform="translate(198 735)"><use href="#dc" class="bd"/><text class="t c" y="2.7">chr19 1285869 1286032</text></g>
<g id="c10" transform="translate(429 1044)"><use href="#dc" class="bd"/><text class="t c" y="2.7">chr16 84144692 84145136</text></g>
<g id="c11" transform="translate(508 1051)"><use href="#dc" class="bd"/><text class="t c" y="2.7">chr16 84117027 84117446</text></g>
<g id="c12" transform="translate(554 849)"><use href="#dc" class="ra"/><text class="t c" y="2.7">chr1 203089531 203089927</text></g>
<g id="c13" transform="translate(248 947)"><use href="#dc" class="ra"/><text class="t c" y="2.7">chr16 2215260 2215614</text></g>
<g id="c14" transform="translate(203 958)"><use href="#dc" class="ra"/><text class="t c" y="2.7">chr16 2195096 2196293</text></g>
<g id="c15" transform="translate(305 959)"><use href="#dc" class="ra"/><text class="t c" y="2.7">chr16 2329981 2330159</text></g>
<g id="c16" transform="translate(187 984)"><use href="#dc" class="ra"/><text class="t c" y="2.7">chr16 2196414 2196712</text></g>
<g id="c17" transform="translate(320 1003)"><use href="#dc" class="ra"/><text class="t c" y="2.7">chr16 2329325 2329582</text></g>
<g id="c18" transform="translate(255 1010)"><use href="#dc" class="ra"/><text class="t c" y="2.7">chr16 2267595 2267834</text></g>
<g id="c19" transform="translate(186 1041)"><use href="#dc" class="ra"/><text class="t c" y="2.7">chr16 2205164 2205723</text></g>
<g id="c20" transform="translate(312 1042)"><use href="#dc" class="ra"/><text class="t c" y="2.7">chr16 2223629 2224159</text></g>
<g id="c21" transform="translate(227 1066)"><use href="#dc" class="ra"/><text class="t c" y="2.7">chr16 2214302 2214746</text></g>
<g id="c22" transform="translate(273 1075)"><use href="#dc" class="ra"/><text class="t c" y="2.7">chr16 2216137 2216336</text></g>
<g id="c_MRPL54" transform="translate(437 639)"><circle r="9" class="cl"/><text class="t c" y="2.7">MRPL54</text></g>
<g id="c_RNF167" transform="translate(409 678)"><circle r="9" class="cl"/><text class="t c" y="2.7">RNF167</text></g>
<g id="c_DGKQ" transform="translate(243 704)"><circle r="9" class="cl"/><text class="t c" y="2.7">DGKQ</text></g>
<g id="c_TEPSIN" transform="translate(386 703)"><circle r="9" class="cl"/><text class="t c" y="2.7">TEPSIN</text></g>
<g id="c_MCRIP2" transform="translate(441 714)"><circle r="9" class="cl"/><text class="t c" y="2.7">MCRIP2</text></g>
<g id="c_NAA38" transform="translate(505 717)"><circle r="9" class="cl"/><text class="t c" y="2.7">NAA38</text></g>
<g id="c_JMJD7" transform="translate(280 721)"><circle r="9" class="cl"/><text class="t c" y="2.7">JMJD7-PLA2G4B</text></g>
<g id="c_PRPF8" transform="translate(546 724)"><circle r="14" class="cl"/><text class="t c" y="2.7">PRPF8</text></g>
<g id="c_PRSS53" transform="translate(415 745)"><circle r="9" class="cl"/><text class="t c" y="2.7">PRSS53</text></g>
<g id="c_DBF4B" transform="translate(480 777)"><circle r="9" class="cl"/><text class="t c" y="2.7">DBF4B</text></g>
<g id="c_MST1" transform="translate(296 799)"><circle r="9" class="cl"/><text class="t c" y="2.7">MST1</text></g>
<g id="c_SULT1A3" transform="translate(323 825)"><circle r="9" class="cl"/><text class="t c" y="2.7">SULT1A3</text></g>
<g id="c_VWA7" transform="translate(611 829)"><circle r="9" class="cl"/><text class="t c" y="2.7">VWA7</text></g>
<g id="c_MYBPH" transform="translate(483 874)"><circle r="9" class="cl"/><text class="t c" y="2.7">MYBPH</text></g>
<g id="c_SH2B1" transform="translate(198 883)"><circle r="9" class="cl"/><text class="t c" y="2.7">SH2B1</text></g>
<g id="c_EDC4" transform="translate(545 932)"><circle r="9" class="cl"/><text class="t c" y="2.7">EDC4</text></g>
<g id="c_CIAO2B" transform="translate(582 950)"><circle r="9" class="cl"/><text class="t c" y="2.7">CIAO2B</text></g>
<g id="c_MBTPS1" transform="translate(432 977)"><circle r="9" class="cl"/><text class="t c" y="2.7">MBTPS1</text></g>
<g id="c_NUP93" transform="translate(553 1013)"><circle r="9" class="cl"/><text class="t c" y="2.7">NUP93</text></g>
<g id="c_TELO2" transform="translate(336 760)"><circle r="9" class="ph"/><text class="t c" y="2.7">TELO2</text></g>
<g id="c_SPC24" transform="translate(621 799)"><circle r="9" class="ph"/><text class="t c" y="2.7">SPC24</text></g>
<g id="c_MUM1" transform="translate(183 823)"><circle r="16" class="ph"/><text class="t c" y="2.7">MUM1</text></g>
<g id="c_NEURL1" transform="translate(505 817)"><circle r="9" class="ph"/><text class="t c" y="2.7">NEURL1</text></g>
<g id="c_CCDC189" transform="translate(325 854)"><circle r="9" class="ph"/><text class="t c" y="2.7">CCDC189</text></g>
<g id="c_ECI1" transform="translate(367 980)"><circle r="9" class="ph"/><text class="t c" y="2.7">ECI1</text></g>
<g id="c_ZNRF1" transform="translate(594 997)"><circle r="9" class="ph"/><text class="t c" y="2.7">ZNRF1</text></g>
<g id="c_AC130343.3" transform="translate(486 675)"><rect x="-16" y="-16" width="32" height="32" class="cl"/><text class="t c" y="2.7">AC130343.3</text></g>
<g id="c_AC016773.1" transform="translate(334 706)"><rect x="-9.5" y="-9.5" width="19" height="19" class="cl"/><text class="t c" y="2.7">AC016773.1</text></g>
<g id="c_CIRBP-AS1" transform="translate(241 763)"><rect x="-9.5" y="-9.5" width="19" height="19" class="cl"/><text class="t c" y="2.7">CIRBP-AS1</text></g>
<g id="c_AC090114.2" transform="translate(143 768)"><rect x="-9" y="-9" width="18" height="18" class="cl"/><text class="t c" y="2.7">AC090114.2</text></g>
<g id="c_AC090617.3" transform="translate(540 777)"><rect x="-9" y="-9" width="18" height="18" class="cl"/><text class="t c" y="2.7">AC090617.3</text></g>
<g id="c_AC106840.2" transform="translate(575 807)"><rect x="-9" y="-9" width="18" height="18" class="cl"/><text class="t c" y="2.7">AC106840.2</text></g>
<g id="c_AC012313.2" transform="translate(124 816)"><rect x="-9" y="-9" width="18" height="18" class="cl"/><text class="t c" y="2.7">AC012313.2</text></g>
<g id="c_RBM15-AS1" transform="translate(466 810)"><rect x="-9" y="-9" width="18" height="18" class="cl"/><text class="t c" y="2.7">RBM15-AS1</text></g>
<g id="c_LINC02878" transform="translate(259 827)"><rect x="-9" y="-9" width="18" height="18" class="cl"/><text class="t c" y="2.7">LINC02878</text></g>
<g id="c_AC132872.2" transform="translate(386 825)"><rect x="-9" y="-9" width="18" height="18" class="cl"/><text class="t c" y="2.7">AC132872.2</text></g>
<g id="c_AC016878.1" transform="translate(358 873)"><rect x="-9.5" y="-9.5" width="19" height="19" class="cl"/><text class="t c" y="2.7">AC016878.1</text></g>
<g id="c_AC108449.3" transform="translate(431 896)"><rect x="-9.5" y="-9.5" width="19" height="19" class="cl"/><text class="t c" y="2.7">AC108449.3</text></g>
<g id="c_AP000821.1" transform="translate(534 896)"><rect x="-9.5" y="-9.5" width="19" height="19" class="cl"/><text class="t c" y="2.7">AP000821.1</text></g>
<g id="c_EXOSC10-AS1" transform="translate(332 919)"><rect x="-9.5" y="-9.5" width="19" height="19" class="cl"/><text class="t c" y="2.7">EXOSC10-AS1</text></g>
<g id="c_AC120114.1" transform="translate(444 928)"><rect x="-9.5" y="-9.5" width="19" height="19" class="cl"/><text class="t c" y="2.7">AC120114.1</text></g>
<g id="c_AC004803.1" transform="translate(487 925)"><rect x="-9.5" y="-9.5" width="19" height="19" class="cl"/><text class="t c" y="2.7">AC004803.1</text></g>
<g id="c_AL603840.1" transform="translate(487 957)"><rect x="-9.5" y="-9.5" width="19" height="19" class="cl"/><text class="t c" y="2.7">AL603840.1</text></g>
<g id="c_AC040169.3" transform="translate(508 976)"><rect x="-9.5" y="-9.5" width="19" height="19" class="cl"/><text class="t c" y="2.7">AC040169.3</text></g>
<g id="c_AC112220.2" transform="translate(387 1018)"><rect x="-9.5" y="-9.5" width="19" height="19" class="cl"/><text class="t c" y="2.7">AC112220.2</text></g>
<g id="c_AC091053.1" transform="translate(586 759)"><rect x="-9.5" y="-9.5" width="19" height="19" class="ph"/><text class="t c" y="2.7">AC091053.1</text></g>
<g id="c_AC084018.1" transform="translate(404 788)"><rect x="-9.5" y="-9.5" width="19" height="19" class="ph"/><text class="t c" y="2.7">AC084018.1</text></g>
<g id="c_AC005921.2" transform="translate(390 871)"><rect x="-9.5" y="-9.5" width="19" height="19" class="ph"/><text class="t c" y="2.7">AC005921.2</text></g>
<g id="c_AC009065.4" transform="translate(273 901)"><rect x="-14" y="-14" width="28" height="28" class="ph"/><text class="t c" y="2.7">AC009065.4</text></g>
<g id="c_AC067750.1" transform="translate(407 943)"><rect x="-9.5" y="-9.5" width="19" height="19" class="ph"/><text class="t c" y="2.7">AC067750.1</text></g>
</g>
<g id="nodes-D">
<g id="d1" transform="translate(1027 632)"><use href="#dd" class="bd"/><text class="t d" y="3.7">chr19 1407065 1407211</text></g>
<g id="d2" transform="translate(937 653)"><use href="#dd" class="bd"/><text class="t d" y="3.7">chr19 1407597 1408668</text></g>
<g id="d3" transform="translate(979 712)"><use href="#dd" class="bd"/><text class="t d" y="3.7">chr19 1478950 1479184</text></g>
<g id="d4" transform="translate(1126 704)"><use href="#dd" class="bd"/><text class="t d" y="3.7">chr19 1401199 1401462</text></g>
<g id="d5" transform="translate(877 739)"><use href="#dd" class="bd"/><text class="t d" y="3.7">chr19 1414878 1415029</text></g>
<g id="d6" transform="translate(1031 734)"><use href="#dd" class="bd"/><text class="t d" y="3.7">chr19 1469687 1470431</text></g>
<g id="d7" transform="translate(1229 738)"><use href="#dd" class="bd"/><text class="t d" y="3.7">chr19 1566810 1568304</text></g>
<g id="d8" transform="translate(927 759)"><use href="#dd" class="bd"/><text class="t d" y="3.7">chr19 1479270 1479624</text></g>
<g id="d9" transform="translate(986 785)"><use href="#dd" class="bd"/><text class="t d" y="3.7">chr19 1455250 1455433</text></g>
<g id="d10" transform="translate(1040 803)"><use href="#dd" class="bd"/><text class="t d" y="3.7">chr19 1469203 1469455</text></g>
<g id="d11" transform="translate(1111 817)"><use href="#dd" class="bd"/><text class="t d" y="3.7">chr19 1513378 1513949</text></g>
<g id="d12" transform="translate(946 832)"><use href="#dd" class="bd"/><text class="t d" y="3.7">chr19 1490004 1490343</text></g>
<g id="d13" transform="translate(881 842)"><use href="#dd" class="bd"/><text class="t d" y="3.7">chr19 1415781 1416078</text></g>
<g id="d14" transform="translate(1000 852)"><use href="#dd" class="bd"/><text class="t d" y="3.7">chr19 1507956 1508160</text></g>
<g id="d15" transform="translate(1354 858)"><use href="#dd" class="bd"/><text class="t d" y="3.7">chr19 1605021 1605454</text></g>
<g id="d16" transform="translate(935 890)"><use href="#dd" class="bd"/><text class="t d" y="3.7">chr19 1438418 1439254</text></g>
<g id="d17" transform="translate(1042 891)"><use href="#dd" class="bd"/><text class="t d" y="3.7">chr19 1512712 1513019</text></g>
<g id="d18" transform="translate(1254 909)"><use href="#dd" class="bd"/><text class="t d" y="3.7">chr19 1605664 1605895</text></g>
<g id="d19" transform="translate(1332 931)"><use href="#dd" class="bd"/><text class="t d" y="3.7">chr19 1591869 1592318</text></g>
<g id="d20" transform="translate(1397 963)"><use href="#dd" class="bd"/><text class="t d" y="3.7">chr19 1593057 1593231</text></g>
<g id="d21" transform="translate(1322 984)"><use href="#dd" class="bd"/><text class="t d" y="3.7">chr19 1592468 1592839</text></g>
<g id="d_REEP6" transform="translate(1205 660)"><circle r="13" class="cl"/><text class="t d" y="3.7">REEP6</text></g>
<g id="d_QTRT1" transform="translate(1131 927)"><circle r="12" class="cl"/><text class="t d" y="3.7">QTRT1</text></g>
<g id="d_PLK5" transform="translate(1170 955)"><circle r="12" class="cl"/><text class="t d" y="3.7">PLK5</text></g>
<g id="d_PIN1" transform="translate(986 988)"><circle r="12" class="cl"/><text class="t d" y="3.7">PIN1</text></g>
<g id="d_EEF2" transform="translate(1141 1003)"><circle r="12" class="cl"/><text class="t d" y="3.7">EEF2</text></g>
<g id="d_LSM7" transform="translate(997 1047)"><circle r="12" class="cl"/><text class="t d" y="3.7">LSM7</text></g>
<g id="d_THOP1" transform="translate(1072 1055)"><circle r="12" class="cl"/><text class="t d" y="3.7">THOP1</text></g>
<g id="d_AC017074.1" transform="translate(1149 599)"><rect x="-12.5" y="-12.5" width="25" height="25" class="cl"/><text class="t d" y="3.7">AC017074.1</text></g>
<g id="d_KRT7-AS" transform="translate(1217 591)"><rect x="-12.5" y="-12.5" width="25" height="25" class="cl"/><text class="t d" y="3.7">KRT7-AS</text></g>
<g id="d_U52111.1" transform="translate(1275 601)"><rect x="-12.5" y="-12.5" width="25" height="25" class="cl"/><text class="t d" y="3.7">U52111.1</text></g>
<g id="d_LINC01264" transform="translate(1305 642)"><rect x="-12.5" y="-12.5" width="25" height="25" class="cl"/><text class="t d" y="3.7">LINC01264</text></g>
<g id="d_AP000844.2" transform="translate(1276 688)"><rect x="-12.5" y="-12.5" width="25" height="25" class="cl"/><text class="t d" y="3.7">AP000844.2</text></g>
<g id="d_AC005943.2" transform="translate(1281 793)"><rect x="-12.5" y="-12.5" width="25" height="25" class="cl"/><text class="t d" y="3.7">AC005943.2</text></g>
<g id="d_AC097375.3" transform="translate(1194 844)"><rect x="-12.5" y="-12.5" width="25" height="25" class="cl"/><text class="t d" y="3.7">AC097375.3</text></g>
<g id="d_AC026471.4" transform="translate(1150 878)"><rect x="-12.5" y="-12.5" width="25" height="25" class="cl"/><text class="t d" y="3.7">AC026471.4</text></g>
<g id="d_AC138466.1" transform="translate(1243 1009)"><rect x="-12.5" y="-12.5" width="25" height="25" class="cl"/><text class="t d" y="3.7">AC138466.1</text></g>
<g id="d_AC012313.2" transform="translate(1177 1030)"><rect x="-12.5" y="-12.5" width="25" height="25" class="cl"/><text class="t d" y="3.7">AC012313.2</text></g>
<g id="d_AC027307.2" transform="translate(1065 992)"><rect x="-24" y="-24" width="48" height="48" class="cl"/><text class="t d" y="3.7">AC027307.2</text></g>
</g>
<g id="legend">
<path class="ra" d="M14 1083L26 1098 14 1113 2 1098Z"/><text class="lg" x="30" y="1103" textLength="199" lengthAdjust="spacingAndGlyphs">Copy number amplification enhancer</text>
<path class="bd" d="M280 1083L292 1098 280 1113 268 1098Z"/><text class="lg" x="297" y="1103" textLength="173" lengthAdjust="spacingAndGlyphs">Copy number deletion enhancer</text>
<ellipse class="ph" cx="521" cy="1098" rx="13" ry="14"/><text class="lg" x="539" y="1103" textLength="196" lengthAdjust="spacingAndGlyphs">Differentially highly expressed gene</text>
<ellipse class="cl" cx="781" cy="1098" rx="13" ry="14"/><text class="lg" x="798" y="1103" textLength="181" lengthAdjust="spacingAndGlyphs">Differentially low expressed gene</text>
<rect class="ph" x="1006" y="1085" width="26" height="27"/><text class="lg" x="1036" y="1103" textLength="209" lengthAdjust="spacingAndGlyphs">Differentially highly expressed lncRNA</text>
<rect class="cl" x="1265" y="1085" width="26" height="27"/><text class="lg" x="1296" y="1103" textLength="176" lengthAdjust="spacingAndGlyphs">Differentially low expressed lncRNA</text>
</g>
</svg>
